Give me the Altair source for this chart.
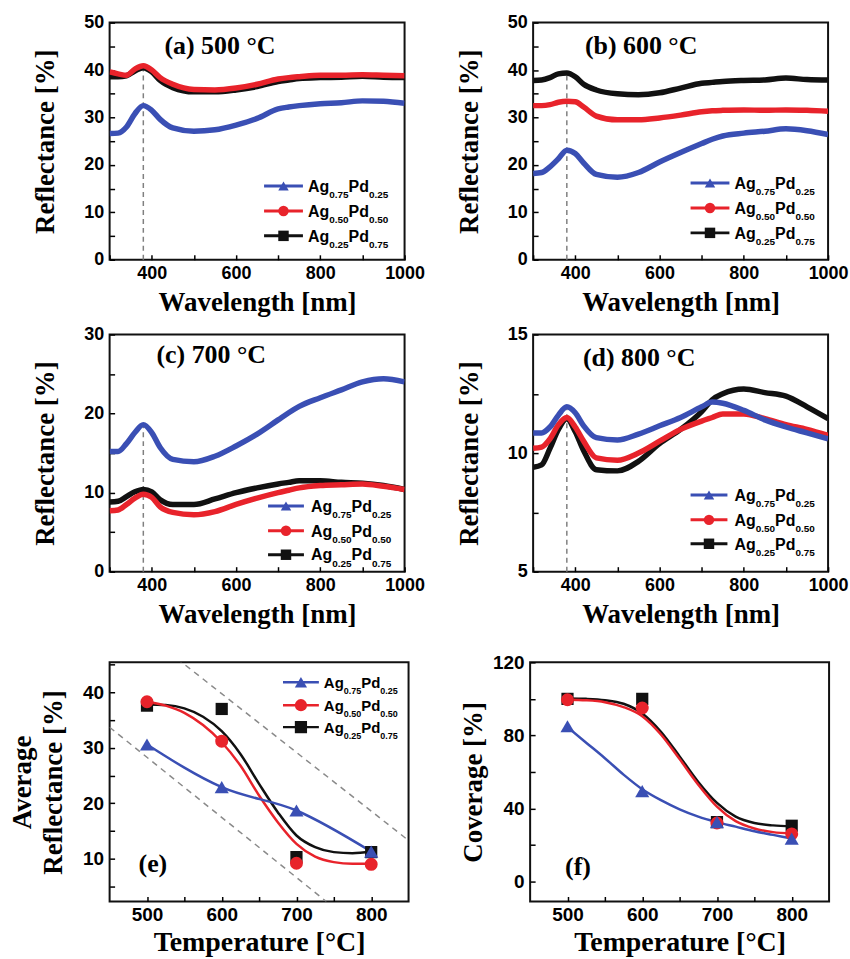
import altair as alt
import pandas as pd

# ---------------- data ----------------
SERIES = ["Ag0.75Pd0.25", "Ag0.50Pd0.50", "Ag0.25Pd0.75"]
WL = [300, 320, 340, 360, 380, 400, 420, 450, 500, 550, 600, 650, 700, 725, 750, 800, 850, 900, 950, 1000]

A_75 = [26.6, 26.7, 28.0, 30.8, 32.5, 31.5, 29.6, 27.8, 27.1, 27.4, 28.4, 29.8, 31.8, 32.2, 32.5, 32.9, 33.1, 33.5, 33.4, 33.0]
A_50 = [39.6, 39.2, 38.9, 40.2, 40.9, 40.0, 38.4, 37.0, 35.9, 35.8, 36.2, 37.0, 38.1, 38.4, 38.6, 38.9, 38.9, 39.0, 38.9, 38.8]
A_25 = [38.6, 38.6, 38.8, 39.8, 40.5, 39.6, 37.8, 36.3, 35.4, 35.4, 35.8, 36.5, 37.6, 37.9, 38.2, 38.4, 38.5, 38.7, 38.5, 38.4]

B_75 = [18.2, 18.4, 19.6, 21.3, 23.1, 22.4, 20.4, 18.0, 17.4, 18.4, 20.6, 22.6, 24.5, 25.4, 26.1, 26.7, 27.1, 27.6, 27.2, 26.4]
B_50 = [32.5, 32.5, 32.7, 33.2, 33.4, 33.3, 32.2, 30.3, 29.5, 29.5, 29.9, 30.5, 31.2, 31.4, 31.5, 31.6, 31.5, 31.6, 31.5, 31.3]
B_25 = [37.8, 37.9, 38.4, 39.2, 39.4, 38.6, 37.0, 35.8, 35.0, 34.8, 35.2, 36.2, 37.2, 37.4, 37.6, 37.8, 37.9, 38.3, 38.0, 37.9]

C_75 = [15.2, 15.2, 16.2, 17.6, 18.6, 17.6, 15.7, 14.2, 13.9, 14.6, 15.9, 17.4, 19.2, 20.1, 20.9, 22.0, 23.0, 24.0, 24.4, 24.0]
C_50 = [7.7, 7.8, 8.5, 9.3, 9.8, 9.4, 8.2, 7.5, 7.2, 7.6, 8.5, 9.3, 10.0, 10.3, 10.6, 10.9, 11.0, 11.1, 10.8, 10.4]
C_25 = [8.8, 8.9, 9.5, 10.1, 10.4, 10.1, 9.1, 8.5, 8.5, 9.2, 10.0, 10.6, 11.1, 11.3, 11.5, 11.5, 11.3, 11.2, 10.9, 10.4]

D_75 = [10.85, 10.85, 11.1, 11.6, 11.95, 11.7, 11.15, 10.65, 10.55, 10.8, 11.15, 11.5, 11.95, 12.15, 12.1, 11.8, 11.4, 11.1, 10.85, 10.6]
D_50 = [10.2, 10.25, 10.6, 11.2, 11.5, 11.1, 10.5, 9.8, 9.7, 10.0, 10.5, 11.0, 11.35, 11.5, 11.65, 11.65, 11.45, 11.2, 11.0, 10.75]
D_25 = [9.4, 9.5, 10.2, 11.0, 11.45, 10.9, 10.1, 9.3, 9.25, 9.65, 10.4, 11.0, 11.75, 12.25, 12.5, 12.7, 12.55, 12.4, 11.95, 11.45]

TEMP = [500, 600, 700, 800]
E_75 = [30.6, 22.9, 18.7, 11.3]
E_50 = [38.3, 31.2, 9.2, 9.0]
E_25 = [37.6, 37.0, 10.3, 11.2]
F_75 = [85.0, 49.5, 32.5, 23.5]
F_50 = [99.5, 95.0, 32.0, 26.0]
F_25 = [100.0, 100.0, 32.5, 30.5]

TFIT = [500, 525, 550, 575, 600, 625, 650, 675, 700, 725, 750, 775, 800]
E_FIT_50 = [38.3, 37.6, 36.3, 34.1, 31.0, 26.8, 21.4, 16.6, 12.7, 10.4, 9.4, 9.1, 9.1]
E_FIT_25 = [37.8, 37.7, 37.1, 35.6, 33.0, 28.9, 23.5, 18.4, 14.2, 12.1, 11.2, 11.0, 11.3]
F_FIT_75 = [84.5, 76.0, 67.5, 58.5, 50.5, 44.5, 39.5, 35.5, 32.5, 30.0, 27.5, 25.5, 23.5]
F_FIT_50 = [99.5, 99.2, 98.2, 95.5, 90.5, 80.5, 67.0, 53.0, 41.0, 33.0, 29.0, 27.0, 26.3]
F_FIT_25 = [100.2, 100.0, 99.3, 97.3, 92.0, 82.0, 68.5, 54.5, 43.0, 35.5, 32.0, 30.7, 30.2]

# dashed guide lines in (e): end points (temperature, reflectance)
GUIDE_UP_T = [540, 850]
GUIDE_UP_R = [46.1, 13.3]
GUIDE_LO_T = [450, 740]
GUIDE_LO_R = [33.7, 2.3]

# ---------------- style ----------------
BLUE, RED, BLACK = "#3a4fb4", "#e8232b", "#111111"
COLORS = [BLUE, RED, BLACK]
SHAPES = ["triangle-up", "circle", "square"]
SANS = "Liberation Sans"
SERIF = "Liberation Serif"
CW = {"A": 0.722, "g": 0.611, "P": 0.667, "d": 0.611, ".": 0.278}


def tw(s, fs):
    return sum(CW.get(c, 0.556) for c in s) * fs


def make_axis(values, test, title, tsize, tpad, lsize, lpad, lineh=None):
    kw = dict(values=values, labelExpr=f"({test}) ? ('' + datum.value) : ''", title=title,
              titleFont=SERIF, titleFontWeight="bold", titleFontSize=tsize, titleColor="black",
              titlePadding=tpad, labelFont=SANS, labelFontWeight="bold", labelFontSize=lsize,
              labelColor="black", labelPadding=lpad, labelFlush=False, labelOverlap=False,
              domain=False, grid=False, ticks=True, tickColor="black", tickWidth=1.5,
              tickSize={"expr": "-5"})
    if lineh:
        kw["titleLineHeight"] = lineh
    return alt.Axis(**kw)


def legend_layers(xa, xb, tx, ys, fs, sub, lw, msize):
    rows, pieces = [], []
    for i, name in enumerate(SERIES):
        rows.append({"xa": xa, "xb": xb, "xm": (xa + xb) / 2, "y": ys[i], "c": COLORS[i], "sh": SHAPES[i]})
        x = tx
        base = ys[i] + 0.36 * fs
        for t, f, dy in [("Ag", fs, 0), (name[2:6], sub, 0.42 * fs), ("Pd", fs, 0), (name[8:], sub, 0.42 * fs)]:
            pieces.append({"px": x, "py": base + dy, "t": t, "fs": f})
            x += tw(t, f)
    rdf = pd.DataFrame(rows)
    pdf = pd.DataFrame(pieces)

    def X(f):
        return alt.X(f, scale=None, axis=None)

    def Y(f):
        return alt.Y(f, scale=None, axis=None)

    rule = alt.Chart(rdf).mark_rule(strokeWidth=lw).encode(
        x=X("xa:Q"), x2="xb:Q", y=Y("y:Q"), color=alt.Color("c:N", scale=None, legend=None))
    pts = alt.Chart(rdf).mark_point(filled=True, opacity=1, size=msize).encode(
        x=X("xm:Q"), y=Y("y:Q"), color=alt.Color("c:N", scale=None, legend=None),
        shape=alt.Shape("sh:N", scale=None, legend=None))
    txt = alt.Chart(pdf).mark_text(align="left", baseline="alphabetic", font=SANS,
                                   fontWeight="bold", color="black").encode(
        x=X("px:Q"), y=Y("py:Q"), text="t:N", size=alt.Size("fs:Q", scale=None, legend=None))
    return [rule, pts, txt]


def panel_label(text, x, y, size=26):
    return alt.Chart(pd.DataFrame({"t": [text]})).mark_text(
        align="left", baseline="alphabetic", font=SERIF, fontWeight="bold",
        fontSize=size, color="black").encode(text="t:N", x=alt.value(x), y=alt.value(y))


W1, H1 = 296, 238
W3, H3 = 300, 240


def spectra(label, lpos, vals, ydom, yvals, ytest, leg):
    xax = make_axis(list(range(300, 1001, 100)), "datum.value % 200 == 0", "Wavelength [nm]", 27, 7, 18, 10)
    yax = make_axis(yvals, ytest, "Reflectance [%]", 27, 24, 18, 11)
    xs = alt.Scale(domain=[300, 1000], nice=False, zero=False)
    ys = alt.Scale(domain=ydom, nice=False, zero=False)
    i380 = WL.index(380)
    peak = max(v[i380] for v in vals)
    layers = [alt.Chart(pd.DataFrame({"x": [380], "y0": [ydom[0]], "y1": [peak]})).mark_rule(
        strokeDash=[5, 4], color="#808080", strokeWidth=1.5).encode(
        x=alt.X("x:Q", scale=xs, axis=xax), y=alt.Y("y0:Q", scale=ys, axis=yax), y2="y1:Q")]
    for i in [2, 1, 0]:
        d = pd.DataFrame({"wl": WL, "r": vals[i]})
        layers.append(alt.Chart(d).mark_line(strokeWidth=5.5, interpolate="monotone", clip=True,
                                             color=COLORS[i]).encode(
            x=alt.X("wl:Q", scale=xs, axis=xax), y=alt.Y("r:Q", scale=ys, axis=yax)))
    layers += legend_layers(*leg, fs=16, sub=10, lw=3, msize=110)
    layers.append(panel_label(label, *lpos))
    return alt.layer(*layers).properties(width=W1, height=H1)


def temp_panel(label, lpos, pts, fits, ydom, yvals, ytest, ytitle, ytpad, leg=None, extra=None):
    xax = make_axis(list(range(500, 801, 50)), "datum.value % 100 == 0", "Temperature [°C]", 28, 4, 19, 9)
    yax = make_axis(yvals, ytest, ytitle, 27, ytpad, 19, 11, lineh=31)
    xs = alt.Scale(domain=[450, 850], nice=False, zero=False)
    ys = alt.Scale(domain=ydom, nice=False, zero=False)
    layers = []
    if extra is not None:
        layers.append(alt.Chart(extra).mark_line(strokeDash=[6, 5], color="#8a8a8a", strokeWidth=1.5,
                                                 clip=True).encode(
            x=alt.X("t:Q", scale=xs, axis=xax), y=alt.Y("r:Q", scale=ys, axis=yax), detail="g:N"))
    for i in [2, 1, 0]:
        d = pd.DataFrame({"t": fits[i][0], "r": fits[i][1]})
        layers.append(alt.Chart(d).mark_line(strokeWidth=2.5, interpolate="monotone", clip=True,
                                             color=COLORS[i]).encode(
            x=alt.X("t:Q", scale=xs, axis=xax), y=alt.Y("r:Q", scale=ys, axis=yax)))
    sizes = [200, 170, 150]
    for i in [2, 1, 0]:
        d = pd.DataFrame({"t": TEMP, "r": pts[i]})
        layers.append(alt.Chart(d).mark_point(filled=True, opacity=1, size=sizes[i], shape=SHAPES[i],
                                              color=COLORS[i]).encode(
            x=alt.X("t:Q", scale=xs, axis=xax), y=alt.Y("r:Q", scale=ys, axis=yax)))
    if leg is not None:
        layers += legend_layers(*leg, fs=15, sub=9, lw=2.5, msize=150)
    layers.append(panel_label(label, *lpos))
    return alt.layer(*layers).properties(width=W3, height=H3)


pa = spectra("(a) 500 °C", (55, 31), [A_75, A_50, A_25], [0, 50], list(range(0, 51, 5)),
             "datum.value % 10 == 0", (155, 194, 199, [164, 189, 214]))
pb = spectra("(b) 600 °C", (52, 31), [B_75, B_50, B_25], [0, 50], list(range(0, 51, 5)),
             "datum.value % 10 == 0", (158, 197, 202, [161, 186, 211]))
pc = spectra("(c) 700 °C", (47, 29), [C_75, C_50, C_25], [0, 30], list(range(0, 31, 5)),
             "datum.value % 10 == 0", (159, 195, 202, [172, 197, 221]))
pd_ = spectra("(d) 800 °C", (50, 32), [D_75, D_50, D_25], [5, 15], [5, 7.5, 10, 12.5, 15],
              "datum.value % 5 == 0", (158, 195, 202, [161, 186, 210]))

guide = pd.DataFrame({"t": GUIDE_UP_T + GUIDE_LO_T, "r": GUIDE_UP_R + GUIDE_LO_R,
                      "g": ["up"] * len(GUIDE_UP_T) + ["lo"] * len(GUIDE_LO_T)})

pe = temp_panel("(e)", (29, 210), [E_75, E_50, E_25],
                [(TEMP, E_75), (TFIT, E_FIT_50), (TFIT, E_FIT_25)],
                [2.3, 45.4], list(range(5, 46, 5)), "datum.value % 10 == 0 && datum.value <= 40",
                ["Average", "Reflectance [%]"], 15, leg=(174, 210, 215, [20, 43, 65]), extra=guide)

pf = temp_panel("(f)", (35, 213), [F_75, F_50, F_25],
                [(TFIT, F_FIT_75), (TFIT, F_FIT_50), (TFIT, F_FIT_25)],
                [-11, 120], list(range(0, 121, 20)), "datum.value % 40 == 0",
                "Coverage [%]", 5)

row1 = alt.hconcat(pa, pb, spacing=27)
row2 = alt.hconcat(pc, pd_, spacing=27)
row3 = alt.hconcat(pe, pf, spacing=49)
top = alt.vconcat(row1, row2, spacing=8)
chart = alt.vconcat(top, row3, spacing=24).properties(
    padding={"left": 7, "top": 11, "right": 0, "bottom": 0},
    background="white",
).configure_view(stroke="#111111", strokeWidth=2)

chart.save("out.html", embed_options={"renderer": "svg", "actions": False})
